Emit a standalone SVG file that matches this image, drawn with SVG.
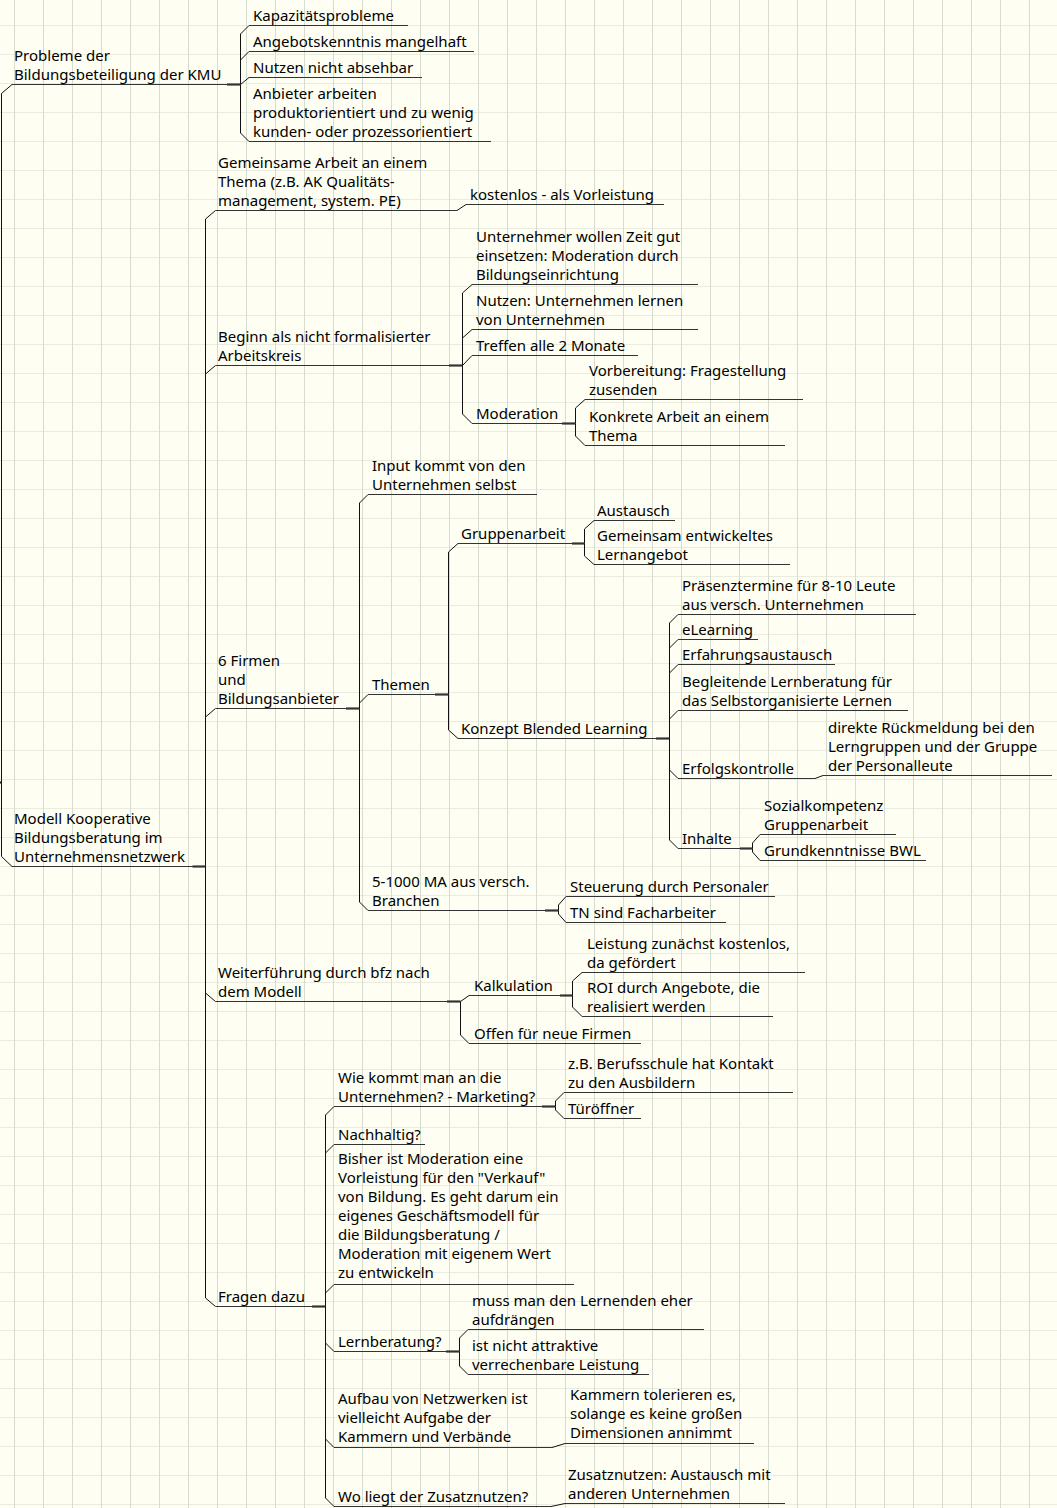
<svg xmlns="http://www.w3.org/2000/svg" width="1057" height="1508" viewBox="0 0 1057 1508">
<defs>
<pattern id="grid" width="29" height="29" patternUnits="userSpaceOnUse" x="14" y="25">
<rect width="29" height="29" fill="#fefef2"/>
<rect x="0" y="0" width="29" height="1" fill="#e9ecde"/>
<rect x="0" y="0" width="1" height="29" fill="#d6ddd0"/>
</pattern>
</defs>
<style>
.t{font-family:"Noto Sans","DejaVu Sans",sans-serif;font-size:15px;fill:#000}
.u{stroke:#333;stroke-width:1;fill:none}
.c{stroke:#111;stroke-width:1;fill:none}
.s{stroke:#111;stroke-width:2;fill:none}
</style>
<rect width="1057" height="1508" fill="url(#grid)"/>

<g id="connectors">
<path class="s" d="M-10 782.5H1.5"/>
<path class="c" d="M1.5 782.5V93.5L12 84.5"/>
<path class="c" d="M1.5 782.5V856.5L12 866.5"/>

<path class="s" d="M227 84.5H240.5"/>
<path class="c" d="M240.5 84.5V34L249 25.5"/>
<path class="c" d="M240.5 84.5V60L249 51.5"/>
<path class="c" d="M240.5 84.5L249 77.5"/>
<path class="c" d="M240.5 84.5V133L249 141.5"/>

<path class="s" d="M192.5 866.5H205.5"/>
<path class="c" d="M205.5 866.5V219L215.5 210.5"/>
<path class="c" d="M205.5 866.5V374L215.5 365.5"/>
<path class="c" d="M205.5 866.5V717L215.5 708.5"/>
<path class="c" d="M205.5 866.5V993L215.5 1001.5"/>
<path class="c" d="M205.5 866.5V1298L215.5 1306.5"/>

<path class="c" d="M457 210.5L466 204.5"/>

<path class="s" d="M449 365.5H462.5"/>
<path class="c" d="M462.5 365.5V293L472 284.5"/>
<path class="c" d="M462.5 365.5V338L472 329.5"/>
<path class="c" d="M462.5 365.5L472 355.5"/>
<path class="c" d="M462.5 365.5V414L472 423.5"/>

<path class="s" d="M562 423.5H575.5"/>
<path class="c" d="M575.5 423.5V408L585 399.5"/>
<path class="c" d="M575.5 423.5V436L585 445.5"/>

<path class="s" d="M346 708.5H359.5"/>
<path class="c" d="M359.5 708.5V503L368 494.5"/>
<path class="c" d="M359.5 708.5V703L368 694.5"/>
<path class="c" d="M359.5 708.5V902L368 910.5"/>

<path class="s" d="M435 694.5H448.5"/>
<path class="c" d="M448.5 694.5V552L458 543.5"/>
<path class="c" d="M448.5 694.5V730L458 738.5"/>

<path class="s" d="M572 543.5H584.5"/>
<path class="c" d="M584.5 543.5V529L594 520.5"/>
<path class="c" d="M584.5 543.5V556L594 564.5"/>

<path class="s" d="M656 738.5H669.5"/>
<path class="c" d="M669.5 738.5V623L678 614.5"/>
<path class="c" d="M669.5 738.5V648L678 639.5"/>
<path class="c" d="M669.5 738.5V673L678 664.5"/>
<path class="c" d="M669.5 738.5V719L678 710.5"/>
<path class="c" d="M669.5 738.5V770L678 778.5"/>
<path class="c" d="M669.5 738.5V840L678 848.5"/>

<path class="c" d="M815 778.5L823 775.5"/>

<path class="s" d="M740 848.5H752.5"/>
<path class="c" d="M752.5 848.5V843L760 834.5"/>
<path class="c" d="M752.5 848.5V852L760 860.5"/>

<path class="s" d="M545 910.5H558.5"/>
<path class="c" d="M558.5 910.5V905L566 896.5"/>
<path class="c" d="M558.5 910.5V914L566 922.5"/>

<path class="s" d="M447 1001.5H460.5"/>
<path class="c" d="M460.5 1001.5L469 995.5"/>
<path class="c" d="M460.5 1001.5V1035L469 1043.5"/>

<path class="s" d="M560 995.5H572.5"/>
<path class="c" d="M572.5 995.5V981L582 972.5"/>
<path class="c" d="M572.5 995.5V1007L582 1016.5"/>

<path class="s" d="M312 1306.5H325.5"/>
<path class="c" d="M325.5 1306.5V1115L334 1106.5"/>
<path class="c" d="M325.5 1306.5V1153L334 1144.5"/>
<path class="c" d="M325.5 1306.5V1293L334 1284.5"/>
<path class="c" d="M325.5 1306.5V1343L334 1351.5"/>
<path class="c" d="M325.5 1306.5V1439L334 1447.5"/>
<path class="c" d="M325.5 1306.5V1498L334 1506.5"/>

<path class="s" d="M542 1106.5H555.5"/>
<path class="c" d="M555.5 1106.5V1101L564 1092.5"/>
<path class="c" d="M555.5 1106.5V1110L564 1118.5"/>

<path class="s" d="M446 1351.5H459.5"/>
<path class="c" d="M459.5 1351.5V1338L468 1329.5"/>
<path class="c" d="M459.5 1351.5V1366L468 1374.5"/>

<path class="c" d="M552 1447.5L565 1443.5"/>
<path class="c" d="M551 1506.5L565 1503.5"/>
</g>

<g id="n-probleme"><path class="u" d="M12 84.5H240.5"/><text class="t" x="14" y="60.7">Probleme der<tspan x="14" dy="18.8">Bildungsbeteiligung der KMU</tspan></text></g>
<g id="n-kapazitaet"><path class="u" d="M249 25.5H408"/><text class="t" x="253" y="20.5">Kapazitätsprobleme</text></g>
<g id="n-angebot"><path class="u" d="M249 51.5H474"/><text class="t" x="253" y="46.5">Angebotskenntnis mangelhaft</text></g>
<g id="n-nutzen"><path class="u" d="M249 77.5H422"/><text class="t" x="253" y="72.5">Nutzen nicht absehbar</text></g>
<g id="n-anbieter"><path class="u" d="M249 141.5H491"/><text class="t" x="253" y="98.9">Anbieter arbeiten<tspan x="253" dy="18.8">produktorientiert und zu wenig</tspan><tspan x="253" dy="18.8">kunden- oder prozessorientiert</tspan></text></g>

<g id="n-modell"><path class="u" d="M12 866.5H205.5"/><text class="t" x="14" y="823.9">Modell Kooperative<tspan x="14" dy="18.8">Bildungsberatung im</tspan><tspan x="14" dy="18.8">Unternehmensnetzwerk</tspan></text></g>

<g id="n-gemeinsam"><path class="u" d="M215.5 210.5H457"/><text class="t" x="218" y="167.9">Gemeinsame Arbeit an einem<tspan x="218" dy="18.8">Thema (z.B. AK Qualitäts-</tspan><tspan x="218" dy="18.8">management, system. PE)</tspan></text></g>
<g id="n-kostenlos"><path class="u" d="M466 204.5H664"/><text class="t" x="470" y="199.5">kostenlos - als Vorleistung</text></g>

<g id="n-beginn"><path class="u" d="M215.5 365.5H462.5"/><text class="t" x="218" y="341.7">Beginn als nicht formalisierter<tspan x="218" dy="18.8">Arbeitskreis</tspan></text></g>
<g id="n-zeit"><path class="u" d="M472 284.5H698"/><text class="t" x="476" y="241.9">Unternehmer wollen Zeit gut<tspan x="476" dy="18.8">einsetzen: Moderation durch</tspan><tspan x="476" dy="18.8">Bildungseinrichtung</tspan></text></g>
<g id="n-lernen"><path class="u" d="M472 329.5H698"/><text class="t" x="476" y="305.7">Nutzen: Unternehmen lernen<tspan x="476" dy="18.8">von Unternehmen</tspan></text></g>
<g id="n-treffen"><path class="u" d="M472 355.5H638"/><text class="t" x="476" y="350.5">Treffen alle 2 Monate</text></g>
<g id="n-moderation"><path class="u" d="M472 423.5H575.5"/><text class="t" x="476" y="418.5">Moderation</text></g>
<g id="n-vorbereitung"><path class="u" d="M585 399.5H803"/><text class="t" x="589" y="375.7">Vorbereitung: Fragestellung<tspan x="589" dy="18.8">zusenden</tspan></text></g>
<g id="n-konkret"><path class="u" d="M585 445.5H785"/><text class="t" x="589" y="421.7">Konkrete Arbeit an einem<tspan x="589" dy="18.8">Thema</tspan></text></g>

<g id="n-firmen"><path class="u" d="M215.5 708.5H359.5"/><text class="t" x="218" y="665.9">6 Firmen<tspan x="218" dy="18.8">und</tspan><tspan x="218" dy="18.8">Bildungsanbieter</tspan></text></g>
<g id="n-input"><path class="u" d="M368 494.5H537"/><text class="t" x="372" y="470.7">Input kommt von den<tspan x="372" dy="18.8">Unternehmen selbst</tspan></text></g>
<g id="n-themen"><path class="u" d="M368 694.5H448.5"/><text class="t" x="372" y="689.5">Themen</text></g>
<g id="n-gruppenarbeit"><path class="u" d="M458 543.5H584.5"/><text class="t" x="461" y="538.5">Gruppenarbeit</text></g>
<g id="n-austausch"><path class="u" d="M594 520.5H675"/><text class="t" x="597" y="515.5">Austausch</text></g>
<g id="n-lernangebot"><path class="u" d="M594 564.5H790"/><text class="t" x="597" y="540.7">Gemeinsam entwickeltes<tspan x="597" dy="18.8">Lernangebot</tspan></text></g>
<g id="n-blended"><path class="u" d="M458 738.5H669.5"/><text class="t" x="461" y="733.5">Konzept Blended Learning</text></g>
<g id="n-praesenz"><path class="u" d="M678 614.5H916"/><text class="t" x="682" y="590.7">Präsenztermine für 8-10 Leute<tspan x="682" dy="18.8">aus versch. Unternehmen</tspan></text></g>
<g id="n-elearning"><path class="u" d="M678 639.5H758"/><text class="t" x="682" y="634.5">eLearning</text></g>
<g id="n-erfahrung"><path class="u" d="M678 664.5H835"/><text class="t" x="682" y="659.5">Erfahrungsaustausch</text></g>
<g id="n-begleitend"><path class="u" d="M678 710.5H908"/><text class="t" x="682" y="686.7">Begleitende Lernberatung für<tspan x="682" dy="18.8">das Selbstorganisierte Lernen</tspan></text></g>
<g id="n-erfolg"><path class="u" d="M678 778.5H815"/><text class="t" x="682" y="773.5">Erfolgskontrolle</text></g>
<g id="n-rueckmeldung"><path class="u" d="M823 775.5H1052"/><text class="t" x="828" y="732.9">direkte Rückmeldung bei den<tspan x="828" dy="18.8">Lerngruppen und der Gruppe</tspan><tspan x="828" dy="18.8">der Personalleute</tspan></text></g>
<g id="n-inhalte"><path class="u" d="M678 848.5H752.5"/><text class="t" x="682" y="843.5">Inhalte</text></g>
<g id="n-sozial"><path class="u" d="M760 834.5H896"/><text class="t" x="764" y="810.7">Sozialkompetenz<tspan x="764" dy="18.8">Gruppenarbeit</tspan></text></g>
<g id="n-bwl"><path class="u" d="M760 860.5H926"/><text class="t" x="764" y="855.5">Grundkenntnisse BWL</text></g>
<g id="n-ma"><path class="u" d="M368 910.5H558.5"/><text class="t" x="372" y="886.7">5-1000 MA aus versch.<tspan x="372" dy="18.8">Branchen</tspan></text></g>
<g id="n-steuerung"><path class="u" d="M566 896.5H775"/><text class="t" x="570" y="891.5">Steuerung durch Personaler</text></g>
<g id="n-tn"><path class="u" d="M566 922.5H726"/><text class="t" x="570" y="917.5">TN sind Facharbeiter</text></g>

<g id="n-weiter"><path class="u" d="M215.5 1001.5H460.5"/><text class="t" x="218" y="977.7">Weiterführung durch bfz nach<tspan x="218" dy="18.8">dem Modell</tspan></text></g>
<g id="n-kalkulation"><path class="u" d="M469 995.5H572.5"/><text class="t" x="474" y="990.5">Kalkulation</text></g>
<g id="n-leistung"><path class="u" d="M582 972.5H805"/><text class="t" x="587" y="948.7">Leistung zunächst kostenlos,<tspan x="587" dy="18.8">da gefördert</tspan></text></g>
<g id="n-roi"><path class="u" d="M582 1016.5H773"/><text class="t" x="587" y="992.7">ROI durch Angebote, die<tspan x="587" dy="18.8">realisiert werden</tspan></text></g>
<g id="n-offen"><path class="u" d="M469 1043.5H641"/><text class="t" x="474" y="1038.5">Offen für neue Firmen</text></g>

<g id="n-fragen"><path class="u" d="M215.5 1306.5H325.5"/><text class="t" x="218" y="1301.5">Fragen dazu</text></g>
<g id="n-wie"><path class="u" d="M334 1106.5H555.5"/><text class="t" x="338" y="1082.7">Wie kommt man an die<tspan x="338" dy="18.8">Unternehmen? - Marketing?</tspan></text></g>
<g id="n-berufsschule"><path class="u" d="M564 1092.5H793"/><text class="t" x="568" y="1068.7">z.B. Berufsschule hat Kontakt<tspan x="568" dy="18.8">zu den Ausbildern</tspan></text></g>
<g id="n-tueroeffner"><path class="u" d="M564 1118.5H641"/><text class="t" x="568" y="1113.5">Türöffner</text></g>
<g id="n-nachhaltig"><path class="u" d="M334 1144.5H425"/><text class="t" x="338" y="1139.5">Nachhaltig?</text></g>
<g id="n-bisher"><path class="u" d="M334 1284.5H574"/><text class="t" x="338" y="1164">Bisher ist Moderation eine<tspan x="338" dy="19">Vorleistung für den &quot;Verkauf&quot;</tspan><tspan x="338" dy="19">von Bildung. Es geht darum ein</tspan><tspan x="338" dy="19">eigenes Geschäftsmodell für</tspan><tspan x="338" dy="19">die Bildungsberatung /</tspan><tspan x="338" dy="19">Moderation mit eigenem Wert</tspan><tspan x="338" dy="19">zu entwickeln</tspan></text></g>
<g id="n-lernberatung"><path class="u" d="M334 1351.5H459.5"/><text class="t" x="338" y="1346.5">Lernberatung?</text></g>
<g id="n-muss"><path class="u" d="M468 1329.5H704"/><text class="t" x="472" y="1305.7">muss man den Lernenden eher<tspan x="472" dy="18.8">aufdrängen</tspan></text></g>
<g id="n-attraktiv"><path class="u" d="M468 1374.5H649"/><text class="t" x="472" y="1350.7">ist nicht attraktive<tspan x="472" dy="18.8">verrechenbare Leistung</tspan></text></g>
<g id="n-aufbau"><path class="u" d="M334 1447.5H552"/><text class="t" x="338" y="1403.9">Aufbau von Netzwerken ist<tspan x="338" dy="18.8">vielleicht Aufgabe der</tspan><tspan x="338" dy="18.8">Kammern und Verbände</tspan></text></g>
<g id="n-kammern"><path class="u" d="M565 1443.5H754"/><text class="t" x="570" y="1399.9">Kammern tolerieren es,<tspan x="570" dy="18.8">solange es keine großen</tspan><tspan x="570" dy="18.8">Dimensionen annimmt</tspan></text></g>
<g id="n-wo"><path class="u" d="M334 1506.5H551"/><text class="t" x="338" y="1501.5">Wo liegt der Zusatznutzen?</text></g>
<g id="n-zusatz"><path class="u" d="M565 1503.5H785"/><text class="t" x="568" y="1479.7">Zusatznutzen: Austausch mit<tspan x="568" dy="18.8">anderen Unternehmen</tspan></text></g>
</svg>
